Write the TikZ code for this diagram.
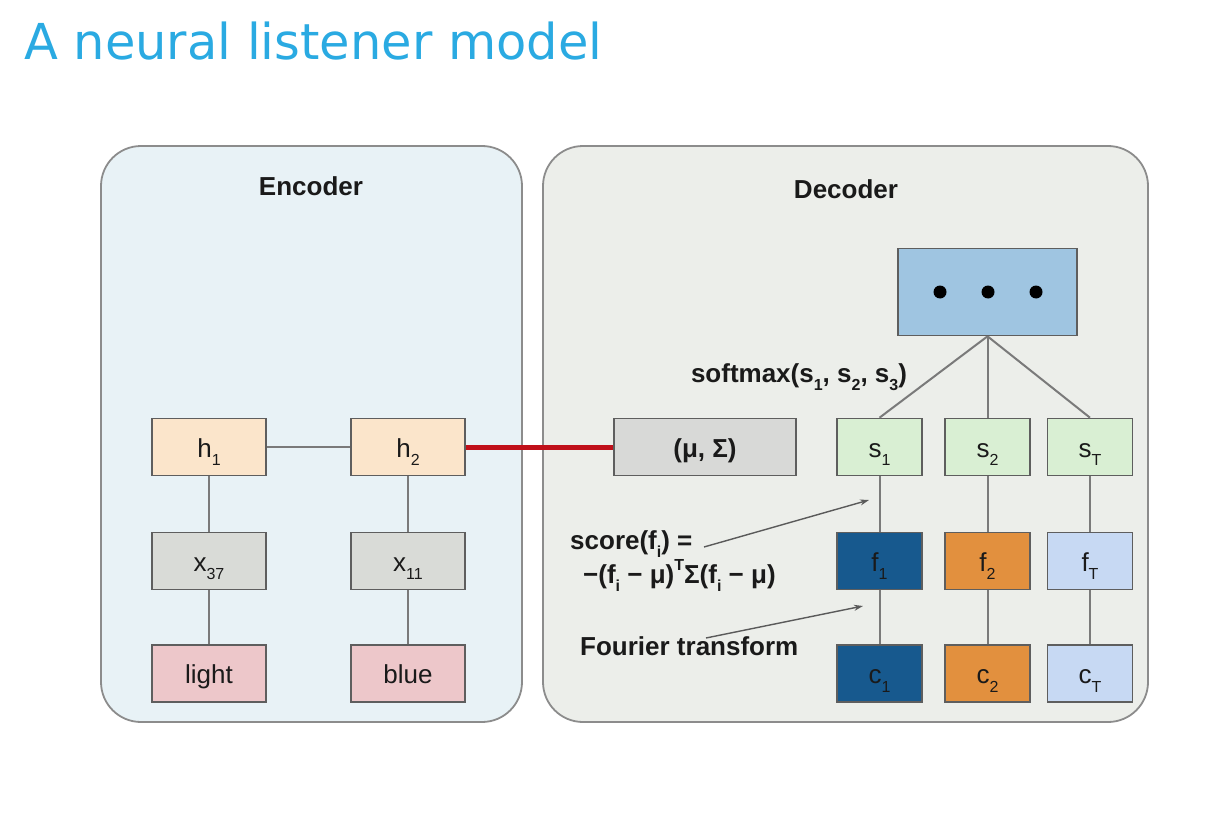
\documentclass[tikz,border=0pt]{standalone}
\usepackage{fontspec}
\setmainfont{Liberation Sans}
\newfontfamily\titlefont{DejaVu Sans}
\usetikzlibrary{arrows.meta}
\definecolor{titleblue}{HTML}{2AAAE2}
\definecolor{encbg}{HTML}{E8F2F6}
\definecolor{decbg}{HTML}{ECEEEA}
\definecolor{contline}{HTML}{8C8C8C}
\definecolor{boxline}{HTML}{5E5E5E}
\definecolor{connline}{HTML}{7A7A7A}
\definecolor{hfill}{HTML}{FBE5CB}
\definecolor{xfill}{HTML}{D9DBD7}
\definecolor{wfill}{HTML}{EDC7CA}
\definecolor{mfill}{HTML}{D8D9D7}
\definecolor{sfill}{HTML}{D9EFD3}
\definecolor{onefill}{HTML}{17598E}
\definecolor{twofill}{HTML}{E2903E}
\definecolor{tfill}{HTML}{C7D9F3}
\definecolor{dotsfill}{HTML}{9FC5E1}
\definecolor{redline}{HTML}{C0101A}
\definecolor{arrgray}{HTML}{5A5A5A}
\definecolor{txt}{HTML}{1A1A1A}
\newcommand{\sbs}[1]{\raisebox{-0.34em}{\fontsize{16}{16}\selectfont #1}}
\newcommand{\sps}[1]{\raisebox{0.5em}{\fontsize{16}{16}\selectfont #1}}
\begin{document}
\begin{tikzpicture}[x=1pt,y=-1pt,
  container/.style={draw=contline, line width=1.8pt, rounded corners=40pt, inner sep=0pt},
  box/.style={draw=boxline, line width=1.6pt, minimum width=114pt, minimum height=57pt,
    inner sep=0pt, text height=22pt, text depth=2pt, text=txt, font=\fontsize{26}{30}\selectfont},
  sbox/.style={box, minimum width=85pt},
  conn/.style={draw=connline, line width=2pt},
  arr/.style={draw=arrgray, line width=1.4pt, -{Stealth[length=9pt,width=6pt]}},
  lbl/.style={inner sep=0pt, text=txt, font=\fontsize{26}{30}\selectfont\bfseries},
  dot/.style={circle, fill=black, inner sep=0pt, minimum size=13pt}
]
\useasboundingbox (0,0) rectangle (1226,824);
\fill[white] (0,0) rectangle (1226,824);

\node[anchor=base west, inner sep=0pt, text=titleblue, font=\fontsize{49.5}{56}\titlefont] (title) at (24,60) {A neural listener model};

% containers
\node[container, fill=encbg, minimum width=421pt, minimum height=576pt] (enc) at (311.5,434) {};
\node[container, fill=decbg, minimum width=605pt, minimum height=576pt] (dec) at (845.5,434) {};
\node[lbl, anchor=base] (enclbl) at (311,195) {Encoder};
\node[lbl, anchor=base] (declbl) at (846,198) {Decoder};

% encoder boxes
\node[box, fill=hfill] (h1) at (209,447) {h\sbs{1}};
\node[box, fill=hfill] (h2) at (408,447) {h\sbs{2}};
\node[box, fill=xfill] (x37) at (209,561) {x\sbs{37}};
\node[box, fill=xfill] (x11) at (408,561) {x\sbs{11}};
\node[box, fill=wfill] (light) at (209,673.5) {light};
\node[box, fill=wfill] (blue) at (408,673.5) {blue};

% decoder boxes
\node[box, fill=mfill, minimum width=182pt, font=\fontsize{26}{30}\selectfont\bfseries] (musig) at (705,447) {(μ, Σ)};
\node[sbox, fill=sfill] (s1) at (879.5,447) {s\sbs{1}};
\node[sbox, fill=sfill] (s2) at (987.5,447) {s\sbs{2}};
\node[sbox, fill=sfill] (sT) at (1090,447) {s\sbs{T}};
\node[sbox, fill=onefill] (f1) at (879.5,561) {f\sbs{1}};
\node[sbox, fill=twofill] (f2) at (987.5,561) {f\sbs{2}};
\node[sbox, fill=tfill] (fT) at (1090,561) {f\sbs{T}};
\node[sbox, fill=onefill] (c1) at (879.5,673.5) {c\sbs{1}};
\node[sbox, fill=twofill] (c2) at (987.5,673.5) {c\sbs{2}};
\node[sbox, fill=tfill] (cT) at (1090,673.5) {c\sbs{T}};

\node[draw=boxline, line width=1.6pt, fill=dotsfill, minimum width=179pt, minimum height=87pt, inner sep=0pt] (dots) at (987.5,292) {};
\node[dot] (d1) at (940,292) {};
\node[dot] (d2) at (988,292) {};
\node[dot] (d3) at (1036,292) {};

% connectors
\draw[conn] (h1) -- (h2);
\draw[conn] (h1) -- (x37);
\draw[conn] (x37) -- (light);
\draw[conn] (h2) -- (x11);
\draw[conn] (x11) -- (blue);
\draw[conn] (s1) -- (f1);
\draw[conn] (f1) -- (c1);
\draw[conn] (s2) -- (f2);
\draw[conn] (f2) -- (c2);
\draw[conn] (sT) -- (fT);
\draw[conn] (fT) -- (cT);
\draw[conn] (dots.south) -- (s1.north);
\draw[conn] (dots.south) -- (s2.north);
\draw[conn] (dots.south) -- (sT.north);
\draw[draw=redline, line width=5pt] (h2.east) -- (musig.west);

% labels
\node[lbl, anchor=base] (softmax) at (799,382) {softmax(s\sbs{1}, s\sbs{2}, s\sbs{3})};
\node[lbl, anchor=base west] (score1) at (570,549) {score(f\sbs{i}) =};
\node[lbl, anchor=base west] (score2) at (583,583) {−(f\sbs{i} − μ)\sps{T}Σ(f\sbs{i} − μ)};
\node[lbl, anchor=base west] (fourier) at (580,655) {Fourier transform};

\coordinate (a1s) at (704,547);
\coordinate (a1e) at (869,500);
\coordinate (a2s) at (706,638);
\coordinate (a2e) at (863,606);
\draw[arr] (a1s) -- (a1e);
\draw[arr] (a2s) -- (a2e);
\end{tikzpicture}
\end{document}
